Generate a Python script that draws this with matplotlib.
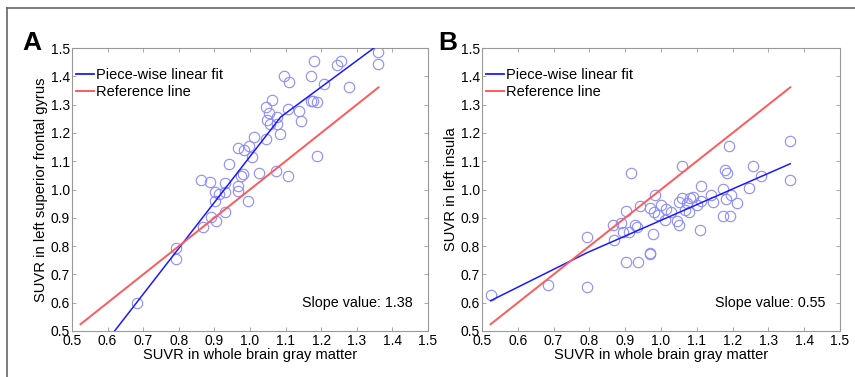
import matplotlib.pyplot as plt
from matplotlib.lines import Line2D

plt.rcParams['font.family'] = ['Liberation Sans', 'DejaVu Sans']

# panel A: whole brain GM vs left superior frontal gyrus
xa = [0.682, 0.791, 0.791, 0.868, 0.863, 0.888, 0.891, 0.901, 0.901, 0.905,
      0.913, 0.930, 0.930, 0.930, 0.940, 0.966, 0.967, 0.967, 0.975, 0.980,
      0.982, 0.993, 0.998, 1.007, 1.010, 1.024, 1.045, 1.046, 1.049, 1.054,
      1.056, 1.063, 1.072, 1.077, 1.077, 1.084, 1.096, 1.108, 1.108, 1.110,
      1.138, 1.142, 1.170, 1.172, 1.179, 1.177, 1.187, 1.187, 1.209, 1.244,
      1.256, 1.277, 1.359, 1.359]
ya = [0.600, 0.754, 0.792, 0.869, 1.032, 1.026, 0.904, 0.991, 0.961, 0.890,
      0.983, 1.022, 0.991, 0.922, 1.090, 1.146, 1.011, 0.995, 1.046, 1.055,
      1.140, 0.958, 1.152, 1.114, 1.185, 1.058, 1.290, 1.178, 1.244, 1.270,
      1.232, 1.317, 1.066, 1.256, 1.232, 1.196, 1.400, 1.285, 1.049, 1.379,
      1.276, 1.241, 1.402, 1.314, 1.453, 1.311, 1.308, 1.117, 1.373, 1.441,
      1.455, 1.361, 1.486, 1.443]
fit_xa = [0.524, 1.086, 1.361]
fit_ya = [0.345, 1.256, 1.512]

# panel B: whole brain GM vs left insula
xb = [0.524, 0.684, 0.794, 0.794, 0.866, 0.870, 0.888, 0.894, 0.902, 0.903,
      0.910, 0.916, 0.927, 0.933, 0.936, 0.942, 0.968, 0.970, 0.970, 0.978,
      0.980, 0.984, 0.993, 1.001, 1.010, 1.014, 1.028, 1.046, 1.049, 1.051,
      1.059, 1.059, 1.066, 1.072, 1.077, 1.082, 1.089, 1.100, 1.110, 1.112,
      1.112, 1.139, 1.145, 1.172, 1.173, 1.179, 1.184, 1.182, 1.189, 1.193,
      1.196, 1.212, 1.247, 1.257, 1.279, 1.361, 1.361]
yb = [0.627, 0.663, 0.831, 0.654, 0.875, 0.822, 0.883, 0.851, 0.745, 0.925,
      0.851, 1.058, 0.875, 0.867, 0.743, 0.943, 0.777, 0.772, 0.934, 0.843,
      0.919, 0.979, 0.910, 0.946, 0.893, 0.932, 0.922, 0.890, 0.875, 0.955,
      0.969, 1.084, 0.928, 0.952, 0.922, 0.969, 0.972, 0.946, 0.857, 1.011,
      0.961, 0.979, 0.955, 1.003, 0.907, 1.070, 1.060, 0.966, 1.154, 0.907,
      0.981, 0.954, 1.005, 1.084, 1.046, 1.172, 1.034]
fit_xb = [0.524, 0.794, 1.361]
fit_yb = [0.607, 0.777, 1.091]

ref_x = [0.524, 1.361]
ticks = [0.5, 0.6, 0.7, 0.8, 0.9, 1.0, 1.1, 1.2, 1.3, 1.4, 1.5]
tick_labels = ['0.5', '0.6', '0.7', '0.8', '0.9', '1.0', '1.1', '1.2', '1.3', '1.4', '1.5']

panels = [
    ('A', xa, ya, fit_xa, fit_ya, 'SUVR in left superior frontal gyrus', 'Slope value: 1.38'),
    ('B', xb, yb, fit_xb, fit_yb, 'SUVR in left insula', 'Slope value: 0.55'),
]

fig = plt.figure(figsize=(8.55, 3.77), dpi=100)
lefts = [72 / 855, 482 / 855]
widths = [356 / 855, 358 / 855]

for i, (letter, x, y, fx, fy, ylab, slope) in enumerate(panels):
    ax = fig.add_axes([lefts[i], 46 / 377, widths[i], 283 / 377])
    ax.plot(x, y, 'o', mfc='none', mec='#8c8cff', ms=7.5, mew=0.8, zorder=2)
    ax.plot(fx, fy, color='#1a1aff', lw=1.1, zorder=3)
    ax.plot(ref_x, ref_x, color='#ff5a5a', lw=1.4, zorder=3)
    ax.set_xlim(0.5, 1.5)
    ax.set_ylim(0.5, 1.5)
    ax.set_xticks(ticks)
    ax.set_xticklabels(tick_labels, fontsize=10)
    ax.set_yticks(ticks)
    ax.set_yticklabels(tick_labels, fontsize=10)
    ax.tick_params(direction='in', top=True, right=True, length=3, width=0.6,
                   color='#999999', pad=1.5)
    ax.tick_params(axis='x', pad=2)
    for s in ax.spines.values():
        s.set_color('#999999')
        s.set_linewidth(0.8)
    ax.set_xlabel('SUVR in whole brain gray matter', fontsize=10.5, labelpad=0)
    ax.set_ylabel(ylab, fontsize=10.6, labelpad=2)
    ax.text(0.958, 0.1, slope, transform=ax.transAxes, ha='right', va='center', fontsize=10.3)
    handles = [Line2D([], [], color='#1a1aff', lw=1.3), Line2D([], [], color='#ff5a5a', lw=1.4)]
    ax.legend(handles, ['Piece-wise linear fit', 'Reference line'], loc='upper left',
              bbox_to_anchor=(0.012, 0.93), frameon=False, fontsize=10.5, borderpad=0,
              borderaxespad=0, handlelength=1.2, handletextpad=0.15, labelspacing=0.2)
    fig.text(lefts[i] - (50 if i == 0 else 44) / 855, 1 - 43 / 377, letter,
             fontsize=19, fontweight='bold', ha='left', va='center')

# figure frame (top and left edges)
fig.add_artist(Line2D([7 / 855, 1], [1 - 8 / 377, 1 - 8 / 377], color='#666666', lw=1.2))
fig.add_artist(Line2D([7 / 855, 7 / 855], [0, 1 - 8 / 377], color='#666666', lw=1.2))

fig.savefig('out.png', dpi=100)
